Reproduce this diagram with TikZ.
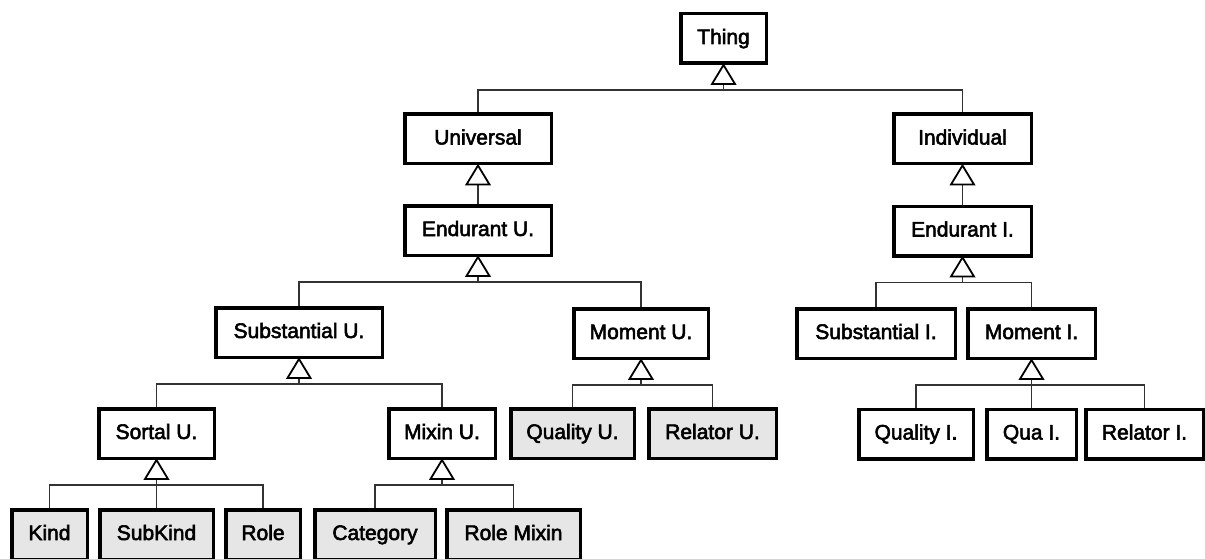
\documentclass[tikz,border=0pt]{standalone}
\usepackage{fontspec}
\newfontfamily\lab{Liberation Sans}
\definecolor{boxgray}{HTML}{E6E6E6}
\definecolor{linegray}{HTML}{333333}
\newcommand{\heavytext}[1]{\special{pdf:literal direct 2 Tr 0.55 w}#1\special{pdf:literal direct 0 Tr}}
\tikzset{
  cls/.style={draw=black, line width=3.5pt, fill=white, inner sep=0pt,
    minimum height=49.5pt, font=\lab\fontsize{21}{25}\selectfont,
    text height=15pt, text depth=4pt},
  grey/.style={cls, fill=boxgray},
  conn/.style={draw=linegray, line width=1.6pt},
  tri/.style={draw=black, line width=1.8pt, fill=white, line join=miter}
}
\newcommand{\gen}[1]{%
  \coordinate (#1-base) at ([yshift=-19pt]#1.south);
  \coordinate (#1-bar) at ([yshift=-25pt]#1.south);
}
\newcommand{\arrowhead}[1]{%
  \draw[tri] (#1.south) -- ([xshift=-11.5pt]#1-base) -- ([xshift=11.5pt]#1-base) -- cycle;
}
\begin{document}
\begin{tikzpicture}[x=1pt,y=-1pt]
\useasboundingbox (0,0) rectangle (1205,559);
\clip (0,0) rectangle (1205,559);
% nodes
\node[cls, minimum width=85.5pt]  (thing) at (723.5,38.5) {\heavytext{Thing}};
\node[cls, minimum width=146.5pt] (univ) at (478,139) {\heavytext{Universal}};
\node[cls, minimum width=137.5pt] (indiv) at (962.5,139) {\heavytext{Individual}};
\node[cls, minimum width=146.5pt] (endU) at (478,230.5) {\heavytext{Endurant U.}};
\node[cls, minimum width=137.5pt] (endI) at (962.5,231) {\heavytext{Endurant I.}};
\node[cls, minimum width=166.5pt] (subU) at (299,332.5) {\heavytext{Substantial U.}};
\node[cls, minimum width=134.5pt] (momU) at (641,333.5) {\heavytext{Moment U.}};
\node[cls, minimum width=158.5pt] (subI) at (876,333.5) {\heavytext{Substantial I.}};
\node[cls, minimum width=127.5pt] (momI) at (1031.5,333.5) {\heavytext{Moment I.}};
\node[cls, minimum width=115.5pt] (sortU) at (156.5,433.5) {\heavytext{Sortal U.}};
\node[cls, minimum width=106.5pt] (mixU) at (442,433.5) {\heavytext{Mixin U.}};
\node[grey, minimum width=123.5pt] (qualU) at (572.5,433.5) {\heavytext{Quality U.}};
\node[grey, minimum width=127.5pt] (relU) at (712.5,433.5) {\heavytext{Relator U.}};
\node[cls, minimum width=114.5pt] (qualI) at (916,434) {\heavytext{Quality I.}};
\node[cls, minimum width=89.5pt] (quaI) at (1031.5,434) {\heavytext{Qua I.}};
\node[cls, minimum width=117.5pt] (relI) at (1144.5,434) {\heavytext{Relator I.}};
\node[grey, minimum width=75.5pt] (kind) at (49.5,534.5) {\heavytext{Kind}};
\node[grey, minimum width=113.5pt] (subkind) at (156.5,534.5) {\heavytext{SubKind}};
\node[grey, minimum width=74.5pt] (role) at (263,534.5) {\heavytext{Role}};
\node[grey, minimum width=120.5pt] (cat) at (375,534.5) {\heavytext{Category}};
\node[grey, minimum width=133.5pt] (rmix) at (513.5,534.5) {\heavytext{Role Mixin}};
% generalization anchors
\gen{thing}\gen{univ}\gen{indiv}\gen{endU}\gen{endI}\gen{subU}\gen{momU}\gen{momI}\gen{sortU}\gen{mixU}
% connectors
\draw[conn] (univ.north) |- (thing-bar) -| (indiv.north);
\draw[conn] (thing-bar) -- (thing-base);
\draw[conn] (endU.north) -- (univ-base);
\draw[conn] (endI.north) -- (indiv-base);
\draw[conn] (subU.north) |- (endU-bar) -| (momU.north);
\draw[conn] (endU-bar) -- (endU-base);
\draw[conn] (subI.north) |- (endI-bar) -| (momI.north);
\draw[conn] (endI-bar) -- (endI-base);
\draw[conn] (sortU.north) |- (subU-bar) -| (mixU.north);
\draw[conn] (subU-bar) -- (subU-base);
\draw[conn] (qualU.north) |- (momU-bar) -| (relU.north);
\draw[conn] (momU-bar) -- (momU-base);
\draw[conn] (qualI.north) |- (momI-bar) -| (relI.north);
\draw[conn] (quaI.north) -- (momI-base);
\draw[conn] (kind.north) |- (sortU-bar) -| (role.north);
\draw[conn] (subkind.north) -- (sortU-base);
\draw[conn] (cat.north) |- (mixU-bar) -| (rmix.north);
\draw[conn] (mixU-bar) -- (mixU-base);
% arrowheads
\arrowhead{thing}\arrowhead{univ}\arrowhead{indiv}\arrowhead{endU}\arrowhead{endI}
\arrowhead{subU}\arrowhead{momU}\arrowhead{momI}\arrowhead{sortU}\arrowhead{mixU}
\end{tikzpicture}
\end{document}
